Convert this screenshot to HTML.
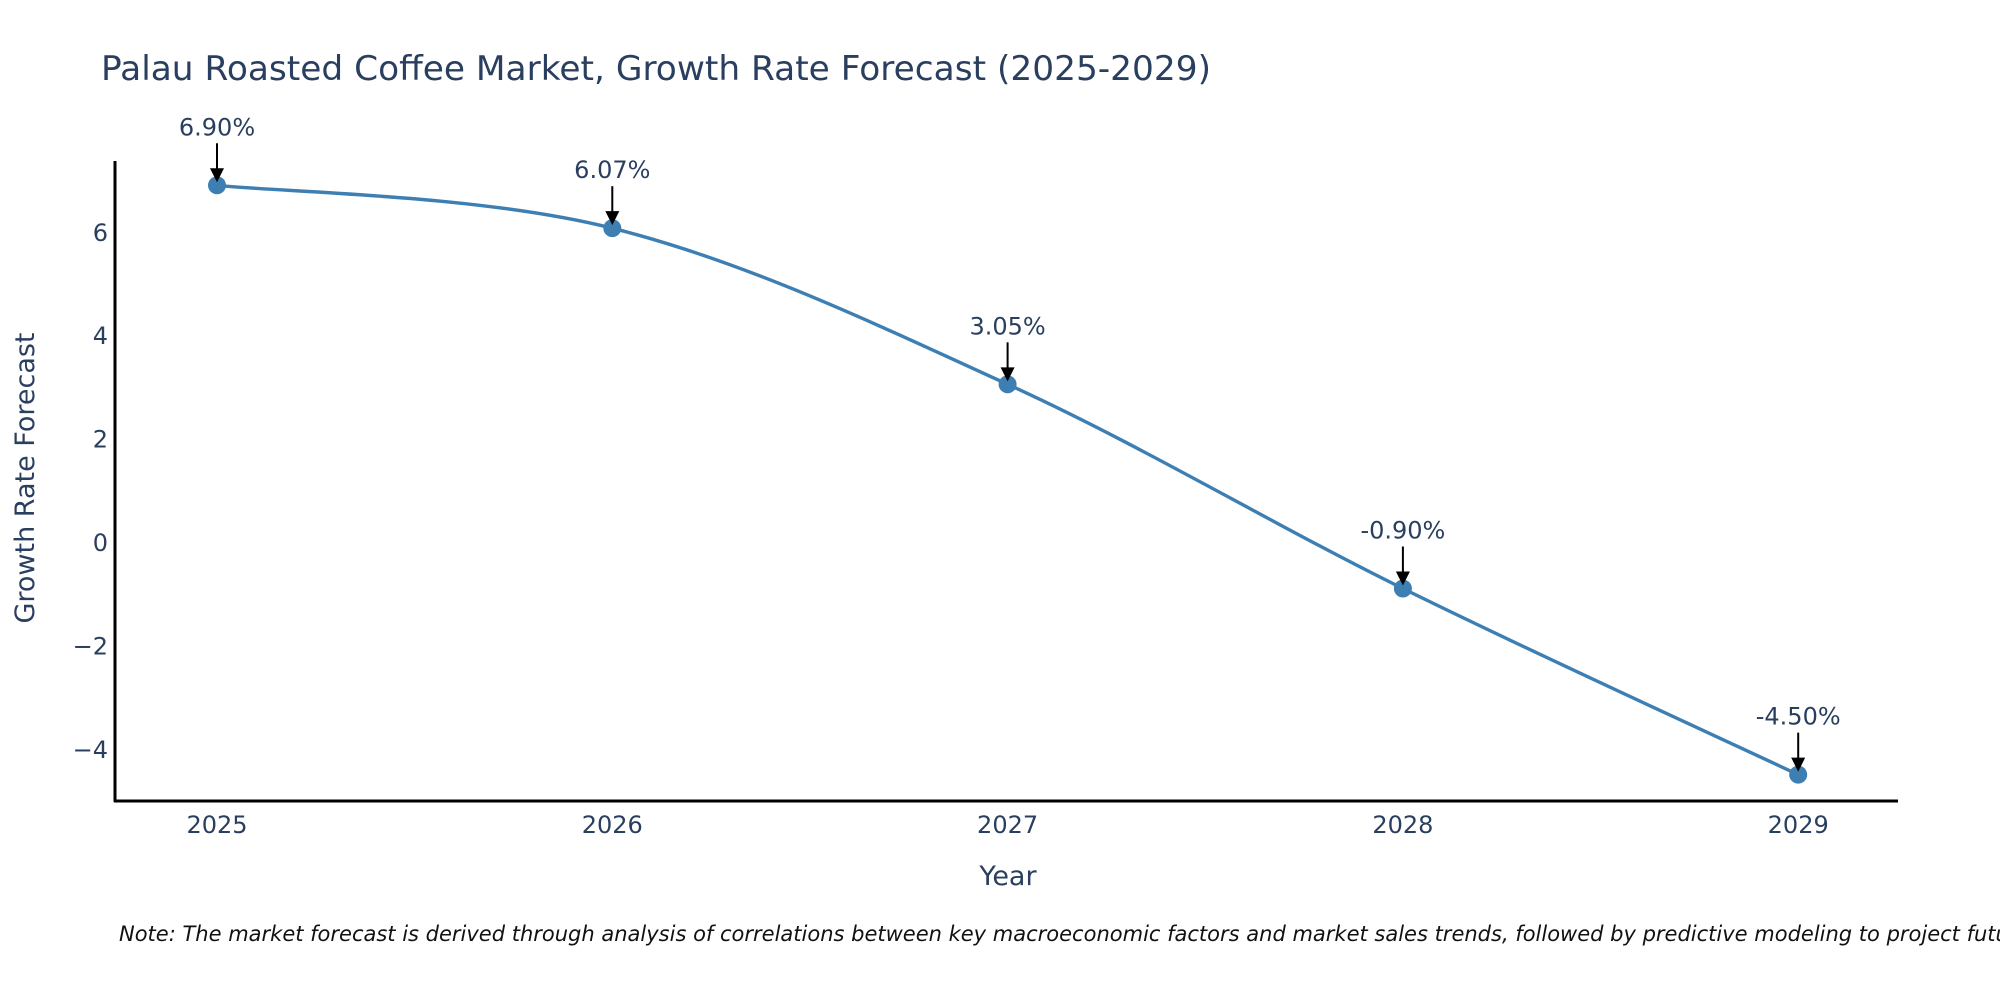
<!DOCTYPE html>
<html><head><meta charset="utf-8"><style>
html,body{margin:0;padding:0;background:#fff;}
svg{display:block;font-family:"DejaVu Sans","Liberation Sans",sans-serif;}
</style></head><body>
<svg id="chart" width="2000" height="1000" viewBox="0 0 2000 1000">
<text x="101" y="80" font-size="34" fill="#2a3f5f" textLength="1110" lengthAdjust="spacingAndGlyphs">Palau Roasted Coffee Market, Growth Rate Forecast (2025-2029)</text>
<g id="yticks"></g>
<g id="xticks"></g>
<path id="line" fill="none" stroke="#3d7fb3" stroke-width="3.4"></path>
<g id="points"></g>
<g id="annots"></g>
<line x1="115" y1="161" x2="115" y2="802" stroke="#000" stroke-width="3"/>
<line x1="114" y1="801" x2="1898" y2="801" stroke="#000" stroke-width="3"/>
<text transform="translate(34,478) rotate(-90)" text-anchor="middle" font-size="27" fill="#2a3f5f">Growth Rate Forecast</text>
<text x="1008" y="885" text-anchor="middle" font-size="27" fill="#2a3f5f">Year</text>
<text x="119" y="941" font-size="21" font-style="italic" fill="#111">Note: The market forecast is derived through analysis of correlations between key macroeconomic factors and market sales trends, followed by predictive modeling to project future sales.</text>
</svg>
<script>
const years = [2025, 2026, 2027, 2028, 2029];
const growth = [6.90, 6.07, 3.05, -0.90, -4.50];
const labels = ["6.90%", "6.07%", "3.05%", "-0.90%", "-4.50%"];
const yTicks = [-4, -2, 0, 2, 4, 6];
const NS = "http://www.w3.org/2000/svg";
function xS(v){ return 217 + (v - 2025) * 395.3; }
function yS(v){ return 542 - v * 51.7; }
function mk(tag, attrs, parent){ const e = document.createElementNS(NS, tag); for (const k in attrs) e.setAttribute(k, attrs[k]); parent.appendChild(e); return e; }
const yt = document.getElementById('yticks');
yTicks.forEach(t => {
  const e = mk('text', {x: 108, y: yS(t) + 9, 'text-anchor': 'end', 'font-size': 24, fill: '#2a3f5f'}, yt);
  
  
  e.textContent = t < 0 ? '\u2212' + Math.abs(t) : String(t);
});
const xt = document.getElementById('xticks');
years.forEach(y => {
  const e = mk('text', {x: xS(y), y: 833, 'text-anchor': 'middle', 'font-size': 24, fill: '#2a3f5f'}, xt);
  
  
  e.textContent = String(y);
});
const pts = years.map((y, i) => [xS(y), yS(growth[i])]);
let d = 'M' + pts[0][0] + ',' + pts[0][1];
const tn = 0.17;
for (let i = 0; i < pts.length - 1; i++) {
  const p0 = pts[Math.max(0, i - 1)], p1 = pts[i], p2 = pts[i + 1], p3 = pts[Math.min(pts.length - 1, i + 2)];
  const c1 = [p1[0] + (p2[0] - p0[0]) * tn, p1[1] + (p2[1] - p0[1]) * tn];
  const c2 = [p2[0] - (p3[0] - p1[0]) * tn, p2[1] - (p3[1] - p1[1]) * tn];
  d += ' C' + c1[0] + ',' + c1[1] + ' ' + c2[0] + ',' + c2[1] + ' ' + p2[0] + ',' + p2[1];
}
document.getElementById('line').setAttribute('d', d);
const pg = document.getElementById('points');
const ag = document.getElementById('annots');
pts.forEach((p, i) => {
  const c = mk('circle', {cx: p[0], cy: p[1], r: 9, fill: '#3d7fb3'}, pg);
  
  
  const l = mk('line', {x1: p[0], y1: p[1] - 42, x2: p[0], y2: p[1] - 14, stroke: '#000', 'stroke-width': 2}, ag);
  
  
  const h = mk('polygon', {points: (p[0]-7)+','+(p[1]-17)+' '+(p[0]+7)+','+(p[1]-17)+' '+p[0]+','+(p[1]-3), fill: '#000'}, ag);
  
  
  const t = mk('text', {x: p[0], y: p[1] - 50, 'text-anchor': 'middle', 'font-size': 24, fill: '#2a3f5f'}, ag);
  
  
  t.textContent = labels[i];
});
</script>
</body></html>
